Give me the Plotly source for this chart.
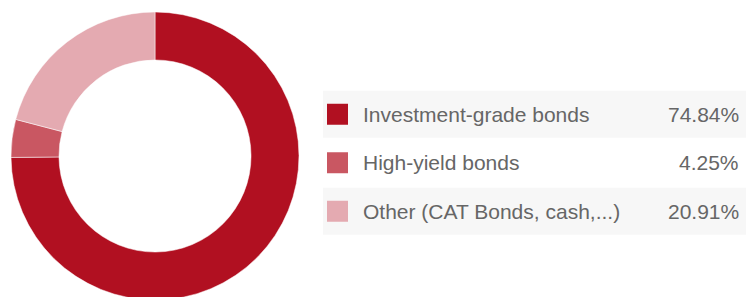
import plotly.graph_objects as go

categories = ["Investment-grade bonds", "High-yield bonds", "Other (CAT Bonds, cash,...)"]
values = [74.84, 4.25, 20.91]
value_labels = ["74.84%", "4.25%", "20.91%"]
colors = ["#B11021", "#C95762", "#E4AAB1"]

W, H = 746, 300  # slightly taller than the window; bottom of ring is cropped as in reference
fig = go.Figure()

# Donut
cx, cy, r = 155, 156, 144
fig.add_trace(go.Pie(
    labels=categories, values=values, hole=0.667, sort=False,
    direction="clockwise", rotation=0,
    marker=dict(colors=colors, line=dict(color="white", width=0.5)),
    textinfo="none", hoverinfo="label+percent", showlegend=False,
    domain=dict(x=[(cx - r) / W, (cx + r) / W], y=[max(0, (H - cy - r) / H), (H - cy + r) / H]),
))

# Legend table in pixel coordinates
row_top0, row_h = 90, 48.5
row_centers = [row_top0 + row_h * i + row_h / 2 for i in range(len(categories))]

for i, yc in enumerate(row_centers):
    if i % 2 == 0:
        fig.add_shape(type="rect", xref="x", yref="y", x0=323, x1=746,
                      y0=yc - 23.5, y1=yc + 23.5, fillcolor="#F7F7F7",
                      line=dict(width=0), layer="below")

fig.add_trace(go.Scatter(
    x=[337.5] * len(categories), y=row_centers, mode="markers",
    marker=dict(symbol="square", size=21, color=colors, line=dict(width=0)),
    hoverinfo="skip", showlegend=False, xaxis="x", yaxis="y",
))

font = dict(family="Liberation Sans, Helvetica, Arial, sans-serif", size=21, color="#666666")
for cat, lab, yc in zip(categories, value_labels, row_centers):
    fig.add_annotation(x=361, y=yc, xref="x", yref="y", text=cat, showarrow=False,
                       xanchor="left", yanchor="middle", font=font)
    fig.add_annotation(x=741, y=yc, xref="x", yref="y", text=lab, showarrow=False,
                       xanchor="right", yanchor="middle", font=font)

fig.update_layout(
    width=W, height=H, margin=dict(l=0, r=0, t=0, b=0),
    paper_bgcolor="white", plot_bgcolor="rgba(0,0,0,0)",
    xaxis=dict(range=[0, W], domain=[0, 1], visible=False, fixedrange=True),
    yaxis=dict(range=[H, 0], domain=[0, 1], visible=False, fixedrange=True),
)

fig.write_html("out.html", config={"displayModeBar": False},
               post_script="document.body.style.margin='0';document.body.style.overflow='hidden';")
